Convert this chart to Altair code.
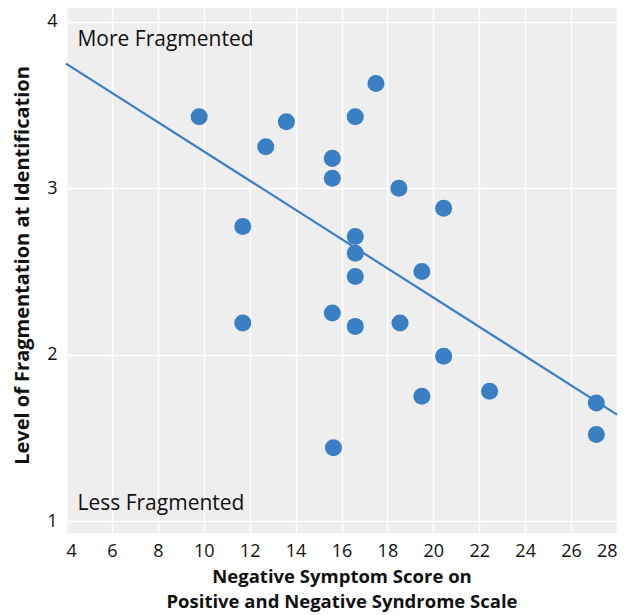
import altair as alt
import pandas as pd

# Scatter data: negative symptom score (x) vs fragmentation level (y)
neg_score = [9.8, 12.7, 13.6, 11.7, 11.7, 15.6, 15.6, 16.6, 17.5, 18.5, 20.45, 16.6,
             16.6, 16.6, 19.5, 15.6, 16.6, 18.55, 20.45, 19.5, 22.45, 27.1, 27.1, 15.65]
fragmentation = [3.43, 3.25, 3.40, 2.77, 2.19, 3.18, 3.06, 3.43, 3.63, 3.00, 2.88, 2.71,
                 2.61, 2.47, 2.50, 2.25, 2.17, 2.19, 1.99, 1.75, 1.78, 1.71, 1.52, 1.44]

# Fitted regression line endpoints
fit_x = [4, 28]
fit_y = [3.75, 1.64]

# Annotations
note_text = ["More Fragmented", "Less Fragmented"]
note_x = [4.5, 4.5]
note_y = [3.89, 1.105]

x_ticks = [4, 6, 8, 10, 12, 14, 16, 18, 20, 22, 24, 26, 28]
y_ticks = [1, 2, 3, 4]

pts = pd.DataFrame({"x": neg_score, "y": fragmentation})
fit = pd.DataFrame({"x": fit_x, "y": fit_y})
notes = pd.DataFrame({"x": note_x, "y": note_y, "t": note_text})

FONT = "Open Sans"
BLUE = "#3a7ec4"

xscale = alt.Scale(domain=[4, 28], nice=False, zero=False)
yscale = alt.Scale(domain=[0.928, 4.084], nice=False, zero=False)

xaxis = alt.Axis(values=x_ticks, format="d", title=["Negative Symptom Score on", "Positive and Negative Syndrome Scale"],
                 labelFontSize=18, labelPadding=9, ticks=False, domain=False,
                 titleFontSize=18.5, titleFontWeight="bold", titleLineHeight=25,
                 titleBaseline="top", titleY=34, labelColor="#111", titleColor="#111",
                 gridColor="white", gridWidth=1.5)
yaxis = alt.Axis(values=y_ticks, format="d", title="Level of Fragmentation at Identification",
                 labelFontSize=18, labelPadding=9, ticks=False, domain=False,
                 titleFontSize=20, titleFontWeight="bold", titleX=-44, titleY=257,
                 titleBaseline="middle", labelColor="#111", titleColor="#111",
                 gridColor="white", gridWidth=1.5)

points = alt.Chart(pts).mark_circle(size=290, opacity=1, color=BLUE).encode(
    x=alt.X("x:Q", scale=xscale, axis=xaxis),
    y=alt.Y("y:Q", scale=yscale, axis=yaxis),
)

line = alt.Chart(fit).mark_line(color=BLUE, strokeWidth=2.2).encode(
    x=alt.X("x:Q", scale=xscale),
    y=alt.Y("y:Q", scale=yscale),
)

text = alt.Chart(notes).mark_text(align="left", baseline="middle", fontSize=21,
                                   font=FONT, color="#111").encode(
    x=alt.X("x:Q", scale=xscale),
    y=alt.Y("y:Q", scale=yscale),
    text="t:N",
)

chart = alt.layer(line, points, text).properties(
    width=551, height=525,
    autosize=alt.AutoSizeParams(type="none"),
    padding={"left": 58, "top": 0, "right": 10, "bottom": 80},
    background="white",
).configure_view(
    fill="#eeeeee", stroke=None
).configure_axis(
    labelFont=FONT, titleFont=FONT
)

chart.save("out.html", embed_options={"renderer": "svg", "actions": False})
